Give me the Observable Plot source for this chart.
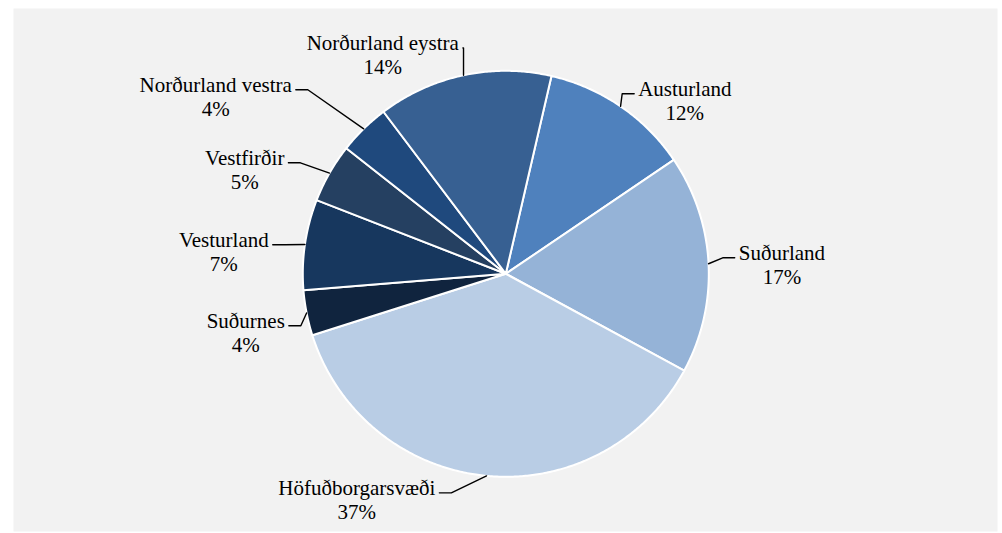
<!DOCTYPE html>
<html><head><meta charset="utf-8">
<script src="https://cdn.jsdelivr.net/npm/d3@7"></script>
<script src="https://cdn.jsdelivr.net/npm/@observablehq/plot@0.6"></script>
<style>
body{margin:0;background:#fff}
#chart svg text{font-family:"Liberation Serif","Times New Roman",serif !important;}
</style>
</head><body><div id="chart"></div>
<script>
// ---- data ----
const regions = ["Austurland","Suðurland","Höfuðborgarsvæði","Suðurnes","Vesturland","Vestfirðir","Norðurland vestra","Norðurland eystra"];
const shares = [11.9, 17.4, 37.2, 3.6, 7.2, 4.7, 4.1, 13.9];
// ---- styles / layout ----
const colors = ["#4f81bd","#95b3d7","#b9cde5","#10243e","#17375e","#254061","#1f497d","#376092"];
// label block centre x and first-line baseline y, in pie-radius units from the centre
const labelX = [0.882, 1.360, -0.734, -1.281, -1.389, -1.286, -1.429, -0.606];
const labelY = [0.877, 0.069, -1.089, -0.266, 0.133, 0.537, 0.897, 1.103];

const W = 1002, H = 533;
const R = 203, CX = 505.3, CY = 273.3;
const FL = 13, FT = 8, FR = 997, FB = 531;
const startDeg = 13;
const FS = 21, LH = 24;
const FONT = "Liberation Serif";
const px = 1 / R;

const total = d3.sum(shares);
let acc = startDeg;
const slices = regions.map((name, i) => {
  const a0 = acc, a1 = acc + shares[i] / total * 360;
  acc = a1;
  return {name, a0, a1, mid: (a0 + a1) / 2, pct: Math.round(shares[i] / total * 100) + "%", lx: labelX[i], ly: labelY[i]};
});
const rad = d => d * Math.PI / 180;
const pts = [];
for (const s of slices) {
  pts.push({name: s.name, x: 0, y: 0});
  const n = Math.max(2, Math.ceil((s.a1 - s.a0) / 0.5));
  for (let k = 0; k <= n; k++) {
    const a = rad(s.a0 + (s.a1 - s.a0) * k / n);
    pts.push({name: s.name, x: Math.sin(a), y: Math.cos(a)});
  }
  pts.push({name: s.name, x: 0, y: 0});
}

const ctx = document.createElement("canvas").getContext("2d");
ctx.font = `${FS}px '${FONT}'`;
const leaders = [];
slices.forEach(s => {
  const ex = Math.sin(rad(s.mid)), ey = Math.cos(rad(s.mid));
  const w = ctx.measureText(s.name).width * px;
  const left = s.lx < ex;
  const segY = s.ly + 2 * px;
  const segX = left ? s.lx + w / 2 + 4 * px : s.lx - w / 2 - 4 * px;
  const elbowX = left ? Math.min(segX + 12 * px, ex) : Math.max(segX - 12 * px, ex);
  leaders.push({name: s.name, x: ex, y: ey}, {name: s.name, x: elbowX, y: segY}, {name: s.name, x: segX, y: segY});
});

const chart = Plot.plot({
  width: W, height: H,
  marginLeft: FL, marginTop: FT, marginRight: W - FR, marginBottom: H - FB,
  x: {domain: [(FL - CX) / R, (FR - CX) / R], axis: null},
  y: {domain: [(CY - FB) / R, (CY - FT) / R], axis: null},
  color: {domain: regions, range: colors},
  style: {background: "#fff", fontFamily: FONT, fontSize: FS + "px"},
  marks: [
    Plot.frame({fill: "#f2f2f2", stroke: "none"}),
    Plot.line(pts, {x: "x", y: "y", z: "name", fill: "name", stroke: "white", strokeWidth: 2, strokeLinejoin: "round", curve: "linear"}),
    Plot.line(leaders, {x: "x", y: "y", z: "name", stroke: "black", strokeWidth: 1.4, curve: "linear"}),
    Plot.text(slices, {x: "lx", y: "ly", text: "name", lineAnchor: "bottom", textAnchor: "middle", fontSize: FS, fontFamily: FONT, fill: "black"}),
    Plot.text(slices, {x: "lx", y: d => d.ly - LH * px, text: "pct", lineAnchor: "bottom", textAnchor: "middle", fontSize: FS, fontFamily: FONT, fill: "black"})
  ]
});
document.getElementById("chart").appendChild(chart);
</script>
</body></html>
